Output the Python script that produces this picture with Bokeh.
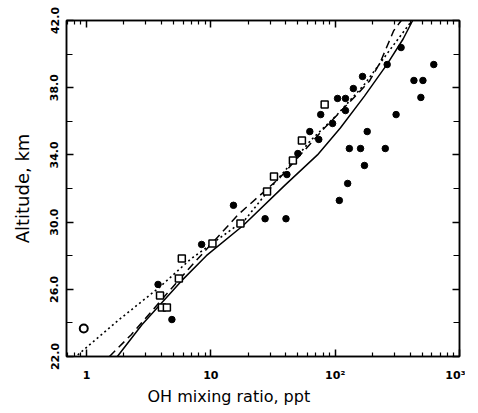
from bokeh.plotting import figure
from bokeh.models import (FixedTicker, LogAxis, LinearAxis, Title, CustomJSTickFormatter,
                          PrintfTickFormatter)
from bokeh.embed import file_html
from bokeh.resources import INLINE

# Filled circles (OH mixing ratio ppt, altitude km)
filled_x = [3.76, 4.86, 8.43, 15.2, 27.3, 40.2, 40.9, 50.1, 62.5, 73.8, 76.5, 95.3,
            104.5, 121, 121, 140, 166, 262, 339, 108, 126, 130, 160, 253, 172, 181,
            309, 430, 508, 489, 621]
filled_y = [26.29, 24.20, 28.67, 31.0, 30.2, 30.2, 32.83, 34.08, 35.39, 34.92, 36.40, 35.87,
            37.36, 37.36, 36.64, 37.95, 38.67, 39.38, 40.39, 31.29, 32.30, 34.38, 34.38, 34.38, 33.37, 35.39,
            36.40, 38.43, 38.43, 37.42, 39.38]

# Open squares
open_sq_x = [5.84, 5.53, 3.90, 4.04, 4.43, 10.3, 17.3, 28.3, 32.2, 45.7, 54.0, 82.3]
open_sq_y = [27.83, 26.64, 25.63, 24.92, 24.92, 28.73, 29.92, 31.82, 32.71, 33.67, 34.86, 37.0]

# Open circle
open_ci_x = [0.95]
open_ci_y = [23.67]

# Model curves
solid_x = [1.77, 2.8, 5.8, 9.2, 18.2, 39.5, 72, 110, 172, 262, 352, 420]
solid_y = [22.0, 23.9, 26.5, 28.0, 29.8, 32.2, 34.0, 35.6, 37.5, 39.4, 40.9, 42.0]

dashed_x = [1.53, 2.29, 3.83, 6.6, 16.6, 36, 82, 150, 189, 230, 296, 340]
dashed_y = [22.0, 23.3, 25.2, 27.2, 30.45, 32.65, 35.6, 37.6, 38.4, 39.5, 41.4, 42.0]

dotted_x = [0.85, 1.83, 3.83, 6.88, 18.9, 32.8, 63.5, 104, 172, 260, 415]
dotted_y = [22.1, 24.2, 26.1, 27.8, 30.15, 32.36, 34.86, 36.4, 38.2, 40.0, 42.0]

x_ticks = [1, 10, 100, 1000]
x_tick_labels = {1: "1", 10: "10", 100: "10²", 1000: "10³"}
y_ticks = [22, 26, 30, 34, 38, 42]
y_minor = [24, 28, 32, 36, 40]

x_minor = [0.7, 0.8, 0.9] + [m * d for d in (1, 10, 100) for m in range(2, 10)]

FONT = "DejaVu Sans"

p = figure(x_axis_type="log", x_range=(0.69, 1000), y_range=(22, 42),
           frame_width=393, frame_height=336,
           min_border_left=66, min_border_top=20, min_border_right=6, min_border_bottom=40,
           output_backend="svg", toolbar_location=None)
p.grid.visible = False
p.outline_line_color = "black"
p.outline_line_width = 1.5
p.background_fill_color = "white"
p.border_fill_color = "white"

# curves
p.line(solid_x, solid_y, line_color="black", line_width=1.5)
p.line(dashed_x, dashed_y, line_color="black", line_width=1.5, line_dash="8 5")
p.line(dotted_x, dotted_y, line_color="black", line_width=1.6, line_dash="2 3")

# points
p.scatter(filled_x, filled_y, marker="circle", size=6.5, fill_color="black", line_color="black")
p.scatter(open_sq_x, open_sq_y, marker="square", size=7, fill_color="white",
          line_color="black", line_width=1.5)
p.scatter(open_ci_x, open_ci_y, marker="circle", size=8, fill_color="white",
          line_color="black", line_width=2)

xt = FixedTicker(ticks=x_ticks, minor_ticks=x_minor)
yt = FixedTicker(ticks=y_ticks, minor_ticks=y_minor)

xa = p.xaxis[0]
xa.ticker = xt
xa.formatter = CustomJSTickFormatter(args=dict(labels={str(k): v for k, v in x_tick_labels.items()}),
                                     code="return labels[String(Math.round(tick))] || '';")
ya = p.yaxis[0]
ya.ticker = yt
ya.formatter = PrintfTickFormatter(format="%.1f")
ya.axis_label = "Altitude, km"
ya.major_label_orientation = "vertical"

for ax in (xa, ya):
    ax.axis_line_width = 1.5
    ax.major_tick_in = 7
    ax.major_tick_out = 0
    ax.minor_tick_in = 4
    ax.minor_tick_out = 0
    ax.major_tick_line_width = 1.5
    ax.minor_tick_line_width = 1.2
    ax.major_tick_line_color = "black"
    ax.minor_tick_line_color = "black"
    ax.axis_line_color = "black"
    ax.major_label_text_font = FONT
    ax.major_label_text_font_size = "11px"
    ax.major_label_text_font_style = "bold"
    ax.major_label_text_color = "black"
    ax.axis_label_text_font = FONT
    ax.axis_label_text_font_size = "18px"
    ax.axis_label_text_font_style = "normal"
    ax.axis_label_text_color = "black"

ya.minor_tick_in = 6
ya.major_label_standoff = 8
ya.axis_label_standoff = 15
xa.major_label_standoff = 12

# top and right axes (ticks only, no labels)
top = LogAxis(ticker=xt, major_label_text_color=None, major_label_standoff=0,
              axis_line_width=1.5, major_tick_in=7, major_tick_out=0,
              minor_tick_in=4, minor_tick_out=0, major_tick_line_width=1.5,
              minor_tick_line_width=1.2)
right = LinearAxis(ticker=yt, major_label_text_color=None, major_label_standoff=0,
                   axis_line_width=1.5, major_tick_in=7, major_tick_out=0,
                   minor_tick_in=6, minor_tick_out=0, major_tick_line_width=1.5)
p.add_layout(top, "above")
p.add_layout(right, "right")

p.add_layout(Title(text="OH mixing ratio, ppt", align="left", offset=81, standoff=0,
                   text_font=FONT, text_font_size="16px", text_font_style="normal",
                   text_color="black"), "below")

open("out.html", "w").write(file_html(p, INLINE))
